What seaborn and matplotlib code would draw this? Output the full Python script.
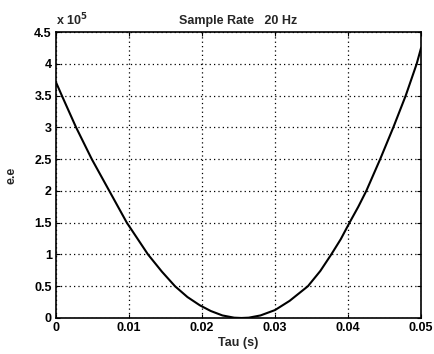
import pandas as pd
import matplotlib
matplotlib.use('Agg')
import matplotlib.pyplot as plt
import seaborn as sns

# values (e.e in units of 1e5)
tau = [0.0, 0.0008, 0.00275, 0.0049, 0.0073, 0.0097, 0.0126, 0.0145, 0.0163,
       0.0180, 0.0197, 0.0212, 0.0228, 0.0244, 0.0254, 0.0264, 0.0280, 0.0300,
       0.0320, 0.0345, 0.0362, 0.0377, 0.0390, 0.0402, 0.0414, 0.0425, 0.0444,
       0.0462, 0.0479, 0.0494, 0.0500]
ee = [3.71, 3.50, 3.00, 2.50, 2.00, 1.50, 1.00, 0.73, 0.50,
      0.33, 0.20, 0.11, 0.04, 0.005, 0.0, 0.005, 0.04, 0.125,
      0.27, 0.50, 0.74, 1.00, 1.24, 1.50, 1.75, 2.00, 2.50,
      3.00, 3.50, 4.00, 4.25]
xticks = [0, 0.01, 0.02, 0.03, 0.04, 0.05]
xtick_labels = ['0', '0.01', '0.02', '0.03', '0.04', '0.05']
yticks = [0, 0.5, 1, 1.5, 2, 2.5, 3, 3.5, 4, 4.5]
ytick_labels = ['0', '0.5', '1', '1.5', '2', '2.5', '3', '3.5', '4', '4.5']

df = pd.DataFrame({'tau': tau, 'ee': ee})

sns.set_style('white')
plt.rcParams['font.family'] = ['Liberation Sans', 'DejaVu Sans']
plt.rcParams['font.weight'] = 'bold'

fig = plt.figure(figsize=(4.35, 3.54), dpi=100)
ax = fig.add_axes([0.1287, 0.1017, 0.8393, 0.8079])

sns.lineplot(data=df, x='tau', y='ee', color='black', linewidth=1.5, ax=ax)

ax.set_xlim(0, 0.05)
ax.set_ylim(0, 4.5)
ax.set_xticks(xticks)
ax.set_xticklabels(xtick_labels)
ax.set_yticks(yticks)
ax.set_yticklabels(ytick_labels)
ax.grid(True, color='black', linestyle=(0, (1, 2.5)), linewidth=0.9)
ax.tick_params(direction='in', length=3, width=0.8, labelsize=9, colors='black', pad=3,
               bottom=True, left=True, top=True, right=True)
for s in ax.spines.values():
    s.set_color('black')
    s.set_linewidth(1.2)

ax.set_title('Sample Rate   20 Hz', fontsize=9, pad=6, fontweight='bold')
ax.set_xlabel('Tau (s)', fontsize=9, labelpad=2, fontweight='bold')
ax.set_ylabel('e.e', fontsize=9, labelpad=12, fontweight='bold')
ax.text(0.0, 1.012, 'x 10$^5$', transform=ax.transAxes, fontsize=9, ha='left', va='bottom',
        fontweight='bold')

fig.savefig('out.png', dpi=100)
